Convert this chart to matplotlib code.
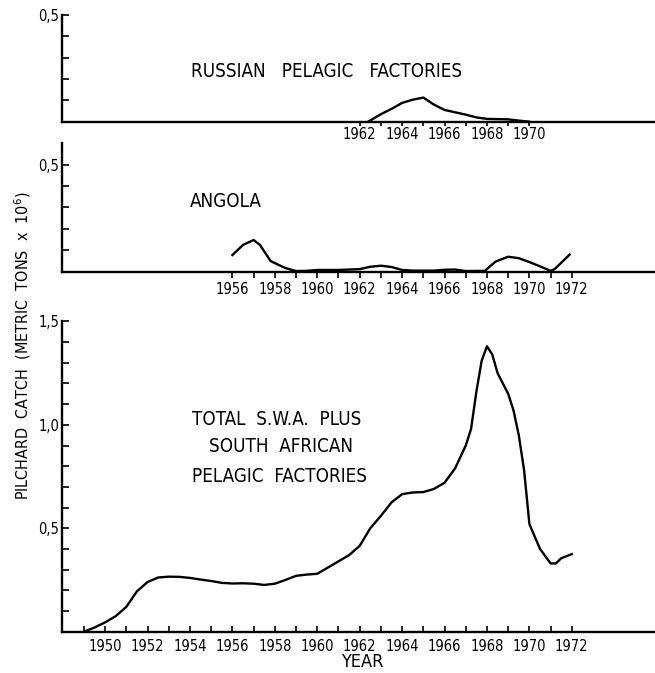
import matplotlib
matplotlib.use("Agg")
import matplotlib.pyplot as plt

plt.rcParams['font.family'] = ['DejaVu Sans']
plt.rcParams['font.stretch'] = 'condensed'

# Russian pelagic factories (million metric tons)
years_ru = [1962.4, 1963.0, 1963.5, 1964.0, 1964.5, 1965.0, 1965.5, 1966.0,
            1966.5, 1967.0, 1967.5, 1968.0, 1968.5, 1969.0, 1969.5, 1970.0]
catch_ru = [0.0, 0.035, 0.06, 0.088, 0.103, 0.113, 0.08, 0.055,
            0.044, 0.033, 0.02, 0.013, 0.012, 0.011, 0.005, 0.0]

# Angola
years_an = [1956.0, 1956.5, 1957.0, 1957.3, 1957.8, 1958.0, 1958.5, 1959.0,
            1959.5, 1960.0, 1961.0, 1962.0, 1962.5, 1963.0, 1963.5, 1964.0,
            1964.5, 1965.0, 1965.5, 1966.0, 1966.5, 1967.0, 1967.9, 1968.4,
            1969.0, 1969.5, 1970.0, 1970.5, 1971.0, 1971.2, 1971.9]
catch_an = [0.078, 0.125, 0.148, 0.125, 0.05, 0.04, 0.017, 0.003,
            0.004, 0.008, 0.008, 0.012, 0.023, 0.028, 0.022, 0.008,
            0.005, 0.005, 0.005, 0.009, 0.01, 0.003, 0.004, 0.047,
            0.07, 0.063, 0.045, 0.025, 0.004, 0.013, 0.08]

# total S.W.A. plus South African pelagic factories
years_tot = [1949.0, 1949.5, 1950.0, 1950.5, 1951.0, 1951.5, 1952.0, 1952.5,
             1953.0, 1953.5, 1954.0, 1954.5, 1955.0, 1955.5, 1956.0, 1956.5,
             1957.0, 1957.5, 1958.0, 1958.5, 1959.0, 1959.5, 1960.0, 1960.5,
             1961.0, 1961.5, 1962.0, 1962.5, 1963.0, 1963.5, 1964.0, 1964.5,
             1965.0, 1965.5, 1966.0, 1966.5, 1967.0, 1967.25, 1967.5, 1967.75,
             1968.0, 1968.25, 1968.5, 1969.0, 1969.25, 1969.5, 1969.75, 1970.0,
             1970.5, 1971.0, 1971.25, 1971.5, 1972.0]
catch_tot = [0.0, 0.02, 0.045, 0.075, 0.12, 0.195, 0.24, 0.262,
             0.266, 0.265, 0.26, 0.252, 0.245, 0.236, 0.233, 0.234,
             0.232, 0.226, 0.232, 0.25, 0.27, 0.276, 0.28, 0.31,
             0.34, 0.37, 0.415, 0.5, 0.56, 0.625, 0.665, 0.673,
             0.675, 0.69, 0.72, 0.79, 0.9, 0.98, 1.16, 1.31,
             1.38, 1.34, 1.25, 1.15, 1.07, 0.95, 0.78, 0.52,
             0.40, 0.33, 0.33, 0.355, 0.375]

ticks_ru = list(range(1962, 1971))
ticks_an = list(range(1956, 1973))
ticks_tot = list(range(1949, 1973))

x0, x1 = 1947.97, 1975.92
fs = 10.5
fs_txt = 13.5

fig = plt.figure(figsize=(6.55, 6.73), dpi=100)
ax_ru = fig.add_axes([0.0947, 0.8192, 0.9053, 0.1585])
ax_an = fig.add_axes([0.0947, 0.5963, 0.9053, 0.1908])
ax_to = fig.add_axes([0.0947, 0.0614, 0.9053, 0.4610])


def frame(ax, ticks, ymax, yticks, ylabels, xdir, xlen, xpad):
    ax.set_xlim(x0, x1)
    ax.set_ylim(0, ymax)
    for s in ('top', 'right'):
        ax.spines[s].set_visible(False)
    for s in ('left', 'bottom'):
        ax.spines[s].set_linewidth(1.7)
    ax.set_xticks(ticks)
    ax.set_xticklabels([str(t) if t % 2 == 0 else '' for t in ticks])
    ax.tick_params(axis='x', direction=xdir, length=xlen, width=1.2,
                   labelsize=fs, pad=xpad)
    ax.set_yticks(yticks)
    ax.set_yticklabels(ylabels)
    ax.tick_params(axis='y', direction='in', length=5, width=1.2,
                   labelsize=fs, pad=2)


frame(ax_ru, ticks_ru, 0.5, [0.1, 0.2, 0.3, 0.4, 0.5],
      ['', '', '', '', '0,5'], 'out', 3, 0.5)
frame(ax_an, ticks_an, 0.6, [0.1, 0.2, 0.3, 0.4, 0.5],
      ['', '', '', '', '0,5'], 'out', 4, 3.5)
frame(ax_to, ticks_tot, 1.5,
      [0.1, 0.2, 0.3, 0.4, 0.5, 0.6, 0.7, 0.8, 0.9, 1.0,
       1.1, 1.2, 1.3, 1.4, 1.5],
      ['', '', '', '', '0,5', '', '', '', '', '1,0',
       '', '', '', '', '1,5'], 'in', 4, 5.5)

ax_ru.plot(years_ru, catch_ru, color='black', lw=1.7)
ax_an.plot(years_an, catch_an, color='black', lw=1.7)
ax_to.plot(years_tot, catch_tot, color='black', lw=1.7)

ax_ru.text(1960.43, 0.235, 'RUSSIAN   PELAGIC   FACTORIES', fontsize=fs_txt,
           ha='center', va='center')
ax_an.text(1954.0, 0.33, 'ANGOLA', fontsize=fs_txt, va='center')
ax_to.text(1958.1, 1.024, 'TOTAL  S.W.A.  PLUS', fontsize=fs_txt,
           ha='center', va='center')
ax_to.text(1958.3, 0.893, 'SOUTH  AFRICAN', fontsize=fs_txt,
           ha='center', va='center')
ax_to.text(1958.2, 0.752, 'PELAGIC  FACTORIES', fontsize=fs_txt,
           ha='center', va='center')

ax_to.set_xlabel('YEAR', fontsize=13, labelpad=6)
ax_to.xaxis.set_label_coords((1962.1 - x0) / (x1 - x0), -0.068)

fig.text(0.034, 1 - 346 / 673,
         'PILCHARD  CATCH  (METRIC  TONS  x  10$^6$)',
         rotation=90, fontsize=11.5, ha='center', va='center')

fig.savefig('out.png', dpi=100)
